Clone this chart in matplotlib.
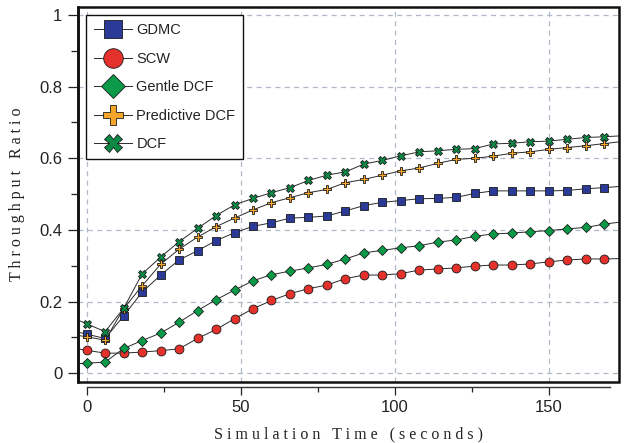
import matplotlib
matplotlib.use("Agg")
import matplotlib.pyplot as plt
from matplotlib.patches import Rectangle
from matplotlib.ticker import MultipleLocator, FixedLocator

# Simulation time (s); -6 and 174 are only the line ends running out of the frame
time = [-6, 0, 6, 12, 18, 24, 30, 36, 42, 48, 54, 60, 66, 72, 78, 84, 90, 96, 102,
        108, 114, 120, 126, 132, 138, 144, 150, 156, 162, 168, 174]

gdmc = [0.121, 0.109, 0.097, 0.160, 0.226, 0.274, 0.316, 0.342, 0.370, 0.392, 0.410,
        0.420, 0.433, 0.435, 0.439, 0.453, 0.468, 0.477, 0.482, 0.487, 0.488, 0.491,
        0.502, 0.509, 0.509, 0.509, 0.509, 0.510, 0.515, 0.518, 0.522]
scw = [0.072, 0.064, 0.056, 0.056, 0.059, 0.063, 0.068, 0.097, 0.122, 0.152, 0.180,
       0.203, 0.222, 0.236, 0.246, 0.264, 0.274, 0.274, 0.278, 0.288, 0.291, 0.294,
       0.299, 0.302, 0.302, 0.305, 0.311, 0.316, 0.319, 0.319, 0.320]
gentle = [0.025, 0.028, 0.031, 0.069, 0.091, 0.112, 0.142, 0.175, 0.205, 0.232, 0.258,
          0.275, 0.285, 0.294, 0.304, 0.319, 0.336, 0.343, 0.350, 0.356, 0.366, 0.372,
          0.382, 0.389, 0.391, 0.395, 0.398, 0.403, 0.407, 0.416, 0.423]
predictive = [0.109, 0.102, 0.092, 0.180, 0.244, 0.304, 0.346, 0.380, 0.409, 0.433, 0.456,
              0.476, 0.490, 0.504, 0.513, 0.532, 0.541, 0.553, 0.565, 0.573, 0.586, 0.597,
              0.600, 0.606, 0.614, 0.618, 0.625, 0.630, 0.635, 0.641, 0.647]
dcf = [0.160, 0.138, 0.116, 0.181, 0.277, 0.324, 0.367, 0.404, 0.440, 0.470, 0.488,
       0.504, 0.518, 0.538, 0.553, 0.562, 0.584, 0.594, 0.607, 0.618, 0.621, 0.625,
       0.627, 0.640, 0.642, 0.646, 0.648, 0.653, 0.658, 0.660, 0.663]

labels = ["GDMC", "SCW", "Gentle DCF", "Predictive DCF", "DCF"]
x_ticks = [0, 50, 100, 150]
y_ticks = [0, 0.2, 0.4, 0.6, 0.8, 1]
y_ticklabels = ["0", "0.2", "0.4", "0.6", "0.8", "1"]

fig = plt.figure(figsize=(6.24, 4.43), dpi=100)
ax = fig.add_axes([0.1245, 0.1384, 0.868, 0.8469])

styles = [
    dict(marker="s", mfc="#2B3A97", ms=6.2),
    dict(marker="o", mfc="#E4312B", ms=6.4),
    dict(marker="D", mfc="#0A9A48", ms=5.6),
    dict(marker="P", mfc="#F5A62A", ms=6.4),
    dict(marker="X", mfc="#0B8A45", ms=5.6),
]
series = [gdmc, scw, gentle, predictive, dcf]
handles = []
for vals, st, lab in zip(series, styles, labels):
    h, = ax.plot(time, vals, color="#2a2a2a", lw=0.7, marker=st["marker"],
                 mfc=st["mfc"], mec="#1a1a1a", mew=0.6, ms=st["ms"],
                 markevery=slice(1, len(time) - 1), label=lab, zorder=3)
    handles.append(h)

ax.set_xlim(-2.9, 172.9)
ax.set_ylim(-0.0237, 1.0237)

ax.xaxis.set_major_locator(FixedLocator(x_ticks))
ax.xaxis.set_minor_locator(FixedLocator([25, 75, 125]))
ax.set_yticks(y_ticks)
ax.set_yticklabels(y_ticklabels)
ax.yaxis.set_minor_locator(MultipleLocator(0.1))

ax.grid(True, which="major", color="#aeb8c8", lw=0.9, ls=(0, (4, 3.5)))
ax.set_axisbelow(True)

for s in ["top", "right"]:
    ax.spines[s].set_visible(False)
ax.spines["left"].set_linewidth(1.8)
ax.spines["bottom"].set_position(("outward", 4))
ax.spines["bottom"].set_bounds(0, 170)
ax.spines["bottom"].set_linewidth(1.0)
ax.spines["bottom"].set_color("#333333")
frame = Rectangle((0, 0), 1, 1, transform=ax.transAxes, fill=False,
                  lw=1.8, ec="#111111", clip_on=False, zorder=5)
ax.add_patch(frame)

ax.tick_params(axis="both", which="major", direction="out", labelsize=12,
               colors="#222222", width=0.9)
ax.tick_params(axis="x", which="major", length=5.5, pad=4)
ax.tick_params(axis="x", which="minor", length=3.5, width=0.9, colors="#222222")
ax.tick_params(axis="y", which="major", length=7, pad=4)
ax.tick_params(axis="y", which="minor", length=5, width=0.9, colors="#222222")
for t in ax.get_xticklabels() + ax.get_yticklabels():
    t.set_fontfamily("Liberation Sans")

ax.set_xlabel("S i m u l a t i o n   T i m e   ( s e c o n d s )",
              fontfamily="Liberation Serif", fontsize=11.5, color="#222222", labelpad=8)
ax.set_ylabel("T h r o u g h p u t   R a t i o",
              fontfamily="Liberation Serif", fontsize=11.5, color="#222222", labelpad=10)

leg = ax.legend(handles=handles, loc="upper left", bbox_to_anchor=(0.0153, 0.9773),
                frameon=True, fancybox=False, edgecolor="#111111", framealpha=1,
                prop=dict(family="Liberation Sans", size=10.5), markerscale=2.2,
                handlelength=2.6, handletextpad=0.3, labelspacing=1.0,
                borderpad=0.55, borderaxespad=0)
leg.get_frame().set_linewidth(1.0)
for t in leg.get_texts():
    t.set_color("#222222")

fig.savefig("out.png", dpi=100)
